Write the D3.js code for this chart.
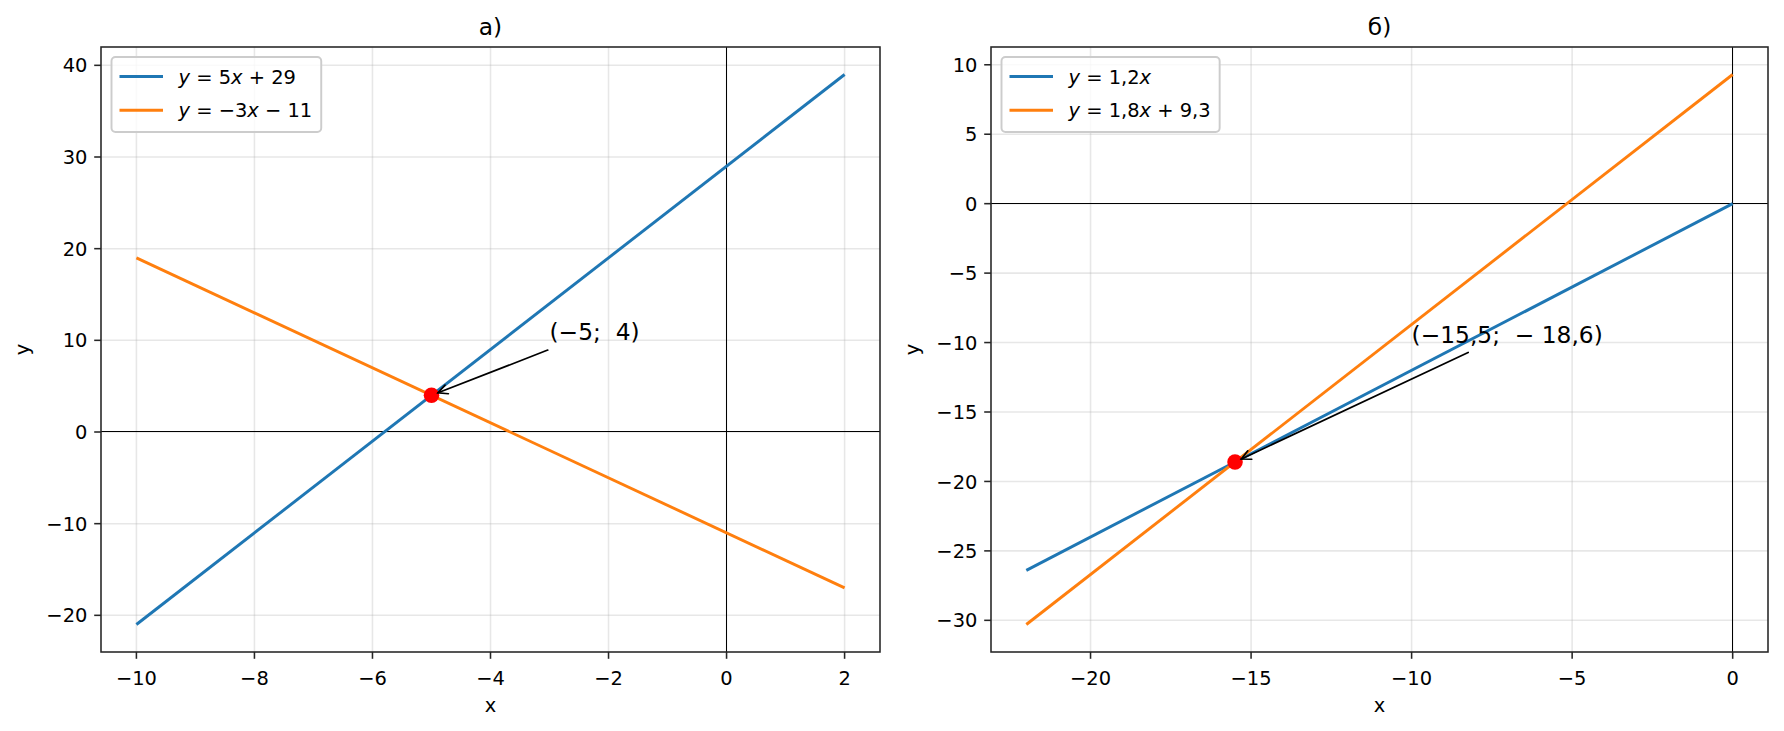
<!DOCTYPE html>
<html>
<head>
<meta charset="utf-8">
<script src="https://cdn.jsdelivr.net/npm/d3@7"></script>
<style>
  html, body { margin: 0; padding: 0; background: #fff; }
  svg { display: block; font-family: "DejaVu Sans", sans-serif; }
</style>
</head>
<body>
<svg id="chart" width="1784" height="731"></svg>
<script>
// ---------------- DATA ----------------
const panelTitles = ["а)", "б)"];

// Panel а)
const xEndsA = [-10, 2];
const line1A = [-21, 39];          // y = 5x + 29
const line2A = [19, -17];          // y = -3x - 11
const pointA = [-5, 4];
const xTicksA = [-10, -8, -6, -4, -2, 0, 2];
const yTicksA = [-20, -10, 0, 10, 20, 30, 40];
const legendA = [
  [["i","y"],["r"," = 5"],["i","x"],["r"," + 29"]],
  [["i","y"],["r"," = −3"],["i","x"],["r"," − 11"]]
];
const annotTextA = "(−5;  4)";
const annotPosA = [-3, 10];

// Panel б)
const xEndsB = [-22, 0];
const line1B = [-26.4, 0];         // y = 1.2x
const line2B = [-30.3, 9.3];       // y = 1.8x + 9.3
const pointB = [-15.5, -18.6];
const xTicksB = [-20, -15, -10, -5, 0];
const yTicksB = [-30, -25, -20, -15, -10, -5, 0, 5, 10];
const legendB = [
  [["i","y"],["r"," = 1,2"],["i","x"]],
  [["i","y"],["r"," = 1,8"],["i","x"],["r"," + 9,3"]]
];
const annotTextB = "(−15,5;  − 18,6)";
const annotPosB = [-10, -10];

const seriesColors = ["#1f77b4", "#ff7f0e"];

// ---------------- LAYOUT ----------------
const PT = 1.944;
const svg = d3.select("#chart");
const yTop = 47, yBottom = 652;
const panels = [
  { left: 101, right: 880, title: panelTitles[0], xEnds: xEndsA, lines: [line1A, line2A], point: pointA,
    xTicks: xTicksA, yTicks: yTicksA, legend: legendA, annot: annotTextA, annotPos: annotPosA },
  { left: 991, right: 1768, title: panelTitles[1], xEnds: xEndsB, lines: [line1B, line2B], point: pointB,
    xTicks: xTicksB, yTicks: yTicksB, legend: legendB, annot: annotTextB, annotPos: annotPosB }
];

const fmt = v => String(v).replace("-", "−");
const crisp = v => Math.round(v - 0.5) + 0.5;

panels.forEach(p => {
  const g = svg.append("g");
  const xr = d3.extent(p.xEnds);
  const allY = p.lines.flat();
  const yr = d3.extent(allY);
  const mx = (xr[1] - xr[0]) * 0.05, my = (yr[1] - yr[0]) * 0.05;
  const x = d3.scaleLinear().domain([xr[0] - mx, xr[1] + mx]).range([p.left, p.right]);
  const y = d3.scaleLinear().domain([yr[0] - my, yr[1] + my]).range([yBottom, yTop]);

  const clipId = "clip" + p.left;
  svg.append("clipPath").attr("id", clipId).append("rect")
    .attr("x", p.left).attr("y", yTop).attr("width", p.right - p.left).attr("height", yBottom - yTop);

  // grid
  const grid = g.append("g").attr("stroke", "#b0b0b0").attr("stroke-opacity", 0.3).attr("stroke-width", 0.8 * PT);
  grid.selectAll(".gx").data(p.xTicks).join("line")
    .attr("x1", d => x(d)).attr("x2", d => x(d)).attr("y1", yTop).attr("y2", yBottom);
  grid.selectAll(".gy").data(p.yTicks).join("line")
    .attr("y1", d => y(d)).attr("y2", d => y(d)).attr("x1", p.left).attr("x2", p.right);

  // zero lines
  g.append("line").attr("x1", p.left).attr("x2", p.right).attr("y1", crisp(y(0))).attr("y2", crisp(y(0)))
    .attr("stroke", "#000").attr("stroke-width", 1);
  g.append("line").attr("x1", crisp(x(0))).attr("x2", crisp(x(0))).attr("y1", yTop).attr("y2", yBottom)
    .attr("stroke", "#000").attr("stroke-width", 1);

  // data lines
  const lineGen = d3.line().x(d => x(d[0])).y(d => y(d[1]));
  p.lines.forEach((ys, i) => {
    const pts = p.xEnds.map((xv, j) => [xv, ys[j]]);
    g.append("path").attr("d", lineGen(pts)).attr("fill", "none")
      .attr("stroke", seriesColors[i]).attr("stroke-width", 1.5 * PT)
      .attr("clip-path", `url(#${clipId})`);
  });

  // intersection marker
  g.append("circle").attr("cx", x(p.point[0])).attr("cy", y(p.point[1])).attr("r", 4 * PT)
    .attr("fill", "#ff0000");

  // annotation text
  const tx = x(p.annotPos[0]), ty = y(p.annotPos[1]);
  const at = g.append("text").attr("x", tx).attr("y", ty).attr("font-size", 12 * PT)
    .attr("fill", "#000").style("white-space", "pre").attr("xml:space", "preserve").text(p.annot);
  const bb = at.node().getBBox();
  const pad = 4;
  const bx0 = bb.x - pad, bx1 = bb.x + bb.width + pad, by0 = bb.y - pad, by1 = bb.y + bb.height + pad;
  const cx = (bx0 + bx1) / 2, cy = (by0 + by1) / 2;
  const px = x(p.point[0]), py = y(p.point[1]);
  const dx = px - cx, dy = py - cy;
  let tMin = Infinity;
  if (dx !== 0) { const t = ((dx > 0 ? bx1 : bx0) - cx) / dx; if (t > 0) tMin = Math.min(tMin, t); }
  if (dy !== 0) { const t = ((dy > 0 ? by1 : by0) - cy) / dy; if (t > 0) tMin = Math.min(tMin, t); }
  const len = Math.hypot(dx, dy);
  const ux = dx / len, uy = dy / len;
  const sx = cx + dx * tMin + ux * 2, sy = cy + dy * tMin + uy * 2;
  const ex = px - ux * 7, ey = py - uy * 7;
  const arr = g.append("g").attr("stroke", "#000").attr("stroke-width", 1.7).attr("fill", "none")
    .attr("stroke-linecap", "round");
  arr.append("line").attr("x1", sx).attr("y1", sy).attr("x2", ex).attr("y2", ey);
  const hl = 0.4 * 12 * PT, hw = 0.2 * 12 * PT;
  const nx = -uy, ny = ux;
  arr.append("path").attr("d",
    `M${ex - ux * hl + nx * hw},${ey - uy * hl + ny * hw}L${ex},${ey}L${ex - ux * hl - nx * hw},${ey - uy * hl - ny * hw}`);

  // spines
  g.append("rect").attr("x", p.left).attr("y", yTop).attr("width", p.right - p.left).attr("height", yBottom - yTop)
    .attr("fill", "none").attr("stroke", "#262626").attr("stroke-width", 0.8 * PT);

  // ticks
  const tickLen = 3.5 * PT;
  const tk = g.append("g").attr("stroke", "#262626").attr("stroke-width", 0.8 * PT);
  tk.selectAll(".tx").data(p.xTicks).join("line")
    .attr("x1", d => x(d)).attr("x2", d => x(d)).attr("y1", yBottom).attr("y2", yBottom + tickLen);
  tk.selectAll(".ty").data(p.yTicks).join("line")
    .attr("y1", d => y(d)).attr("y2", d => y(d)).attr("x1", p.left).attr("x2", p.left - tickLen);

  const tfs = 10 * PT;
  g.append("g").selectAll("text").data(p.xTicks).join("text")
    .attr("x", d => x(d)).attr("y", yBottom + 33).attr("text-anchor", "middle")
    .attr("font-size", tfs).attr("fill", "#000").text(fmt);
  const ylabs = g.append("g");
  ylabs.selectAll("text").data(p.yTicks).join("text")
    .attr("x", p.left - 2 * tickLen).attr("y", d => y(d) + 0.365 * tfs).attr("text-anchor", "end")
    .attr("font-size", tfs).attr("fill", "#000").text(fmt);
  const ylb = ylabs.node().getBBox();

  // axis labels
  g.append("text").attr("x", (p.left + p.right) / 2).attr("y", 711.5).attr("text-anchor", "middle")
    .attr("font-size", tfs).attr("fill", "#000").text("x");
  const ylx = ylb.x - 17.4;
  g.append("text").attr("transform", `translate(${ylx},${(yTop + yBottom) / 2}) rotate(-90)`)
    .attr("text-anchor", "middle").attr("font-size", tfs).attr("fill", "#000").text("y");

  // title
  g.append("text").attr("x", (p.left + p.right) / 2).attr("y", 35.3).attr("text-anchor", "middle")
    .attr("font-size", 12 * PT).attr("fill", "#000").text(p.title);

  // legend
  const lg = g.append("g");
  const lx = p.left + 10.5, ly = yTop + 10;
  const frame = lg.append("rect").attr("x", lx).attr("y", ly).attr("rx", 4).attr("ry", 4)
    .attr("fill", "#fff").attr("fill-opacity", 0.8).attr("stroke", "#cccccc").attr("stroke-width", 1 * PT);
  const rowY = [ly + 19.5, ly + 53.2];
  const hx0 = lx + 8, hx1 = hx0 + 43.5, textX = hx1 + 15.5;
  let maxW = 0;
  p.legend.forEach((parts, i) => {
    lg.append("line").attr("x1", hx0).attr("x2", hx1).attr("y1", rowY[i]).attr("y2", rowY[i])
      .attr("stroke", seriesColors[i]).attr("stroke-width", 1.5 * PT);
    const t = lg.append("text").attr("x", textX).attr("y", rowY[i] + 7.1).attr("font-size", tfs)
      .attr("fill", "#000").style("white-space", "pre").attr("xml:space", "preserve");
    parts.forEach(([s, str]) => {
      t.append("tspan").attr("font-style", s === "i" ? "italic" : "normal").text(str);
    });
    maxW = Math.max(maxW, t.node().getComputedTextLength());
  });
  frame.attr("width", textX + maxW + 9 - lx).attr("height", 75);
});
</script>
</body>
</html>
